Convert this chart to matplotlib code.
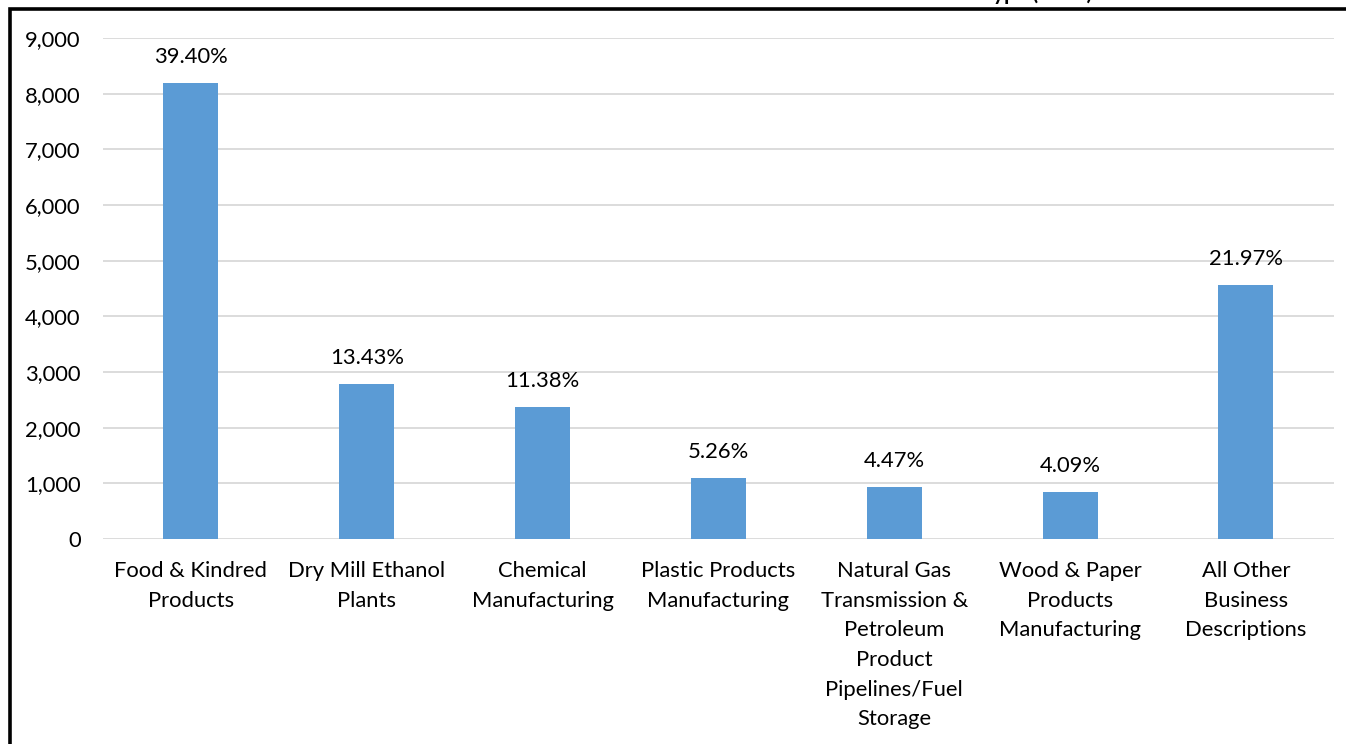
import matplotlib.pyplot as plt
from matplotlib.patches import Rectangle

plt.rcParams['font.family'] = ['Lato', 'DejaVu Sans']

categories = [
    "Food & Kindred\nProducts",
    "Dry Mill Ethanol\nPlants",
    "Chemical\nManufacturing",
    "Plastic Products\nManufacturing",
    "Natural Gas\nTransmission &\nPetroleum\nProduct\nPipelines/Fuel\nStorage",
    "Wood & Paper\nProducts\nManufacturing",
    "All Other\nBusiness\nDescriptions",
]
counts = [8191, 2792, 2366, 1094, 929, 850, 4568]
shares = ["39.40%", "13.43%", "11.38%", "5.26%", "4.47%", "4.09%", "21.97%"]
yticks = [0, 1000, 2000, 3000, 4000, 5000, 6000, 7000, 8000, 9000]

fs = 15.8

fig = plt.figure(figsize=(13.46, 7.44), dpi=100)
ax = fig.add_axes([0.0765, 0.2755, 0.9145, 0.6735])

x = range(len(categories))
bars = ax.bar(x, counts, width=0.313, color="#5b9bd5", zorder=3)

for b, s in zip(bars, shares):
    ax.annotate(s, (b.get_x() + b.get_width() / 2, b.get_height()),
                xytext=(0, 11.5), textcoords="offset points",
                ha="center", va="bottom", fontsize=fs)

ax.set_xlim(-0.5, len(categories) - 0.5)
ax.set_ylim(0, 9000)
ax.set_yticks(yticks)
ax.set_yticklabels([f"{v:,}" for v in yticks], fontsize=fs)
ax.set_xticks(list(x))
ax.set_xticklabels(categories, fontsize=fs, linespacing=1.6)
ax.tick_params(axis="both", length=0)
ax.tick_params(axis="y", pad=16)
ax.tick_params(axis="x", pad=16)
ax.grid(axis="y", color="#d9d9d9", linewidth=1.3, zorder=0)
for sp in ax.spines.values():
    sp.set_visible(False)

# chart title sits above the frame, mostly cut off at the top edge
fig.text(1092 / 1346, 1.0, "Number of Facilities Business Type (2019)",
         ha="right", va="baseline", fontsize=15, fontweight="bold")

# black frame around the chart
fig.patches.append(Rectangle((9.5 / 1346, -0.1), 1.2, 1.1 - 8.5 / 744,
                             transform=fig.transFigure, fill=False,
                             edgecolor="black", linewidth=2.6, clip_on=False))

fig.savefig("out.png", dpi=100)
